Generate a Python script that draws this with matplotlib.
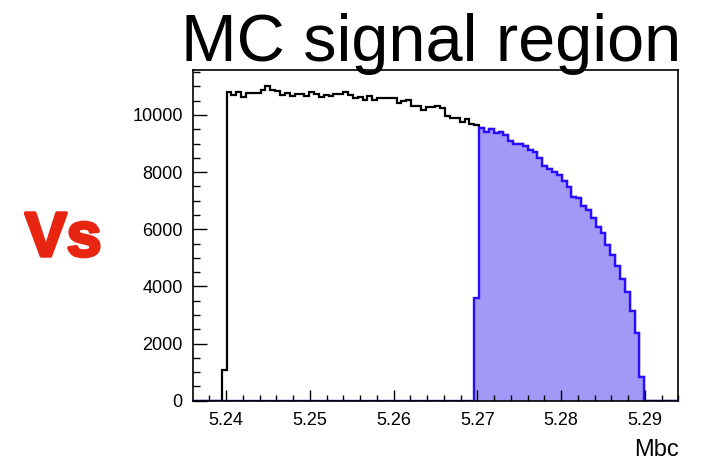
import numpy as np
import matplotlib
matplotlib.use('Agg')
import matplotlib.pyplot as plt
import matplotlib.patheffects as pe

plt.rcParams['font.family'] = ['Liberation Sans', 'DejaVu Sans']

# binning: 100 bins of Mbc
x_min, x_max, n_bins = 5.236, 5.294, 100

# full MC histogram, non-empty bins 6..92
first_bin = 6
mc_counts = [
    1080,
    10815, 10700, 10815, 10640, 10760, 10760, 10780, 10870, 11015, 10875,
    10850, 10700, 10780, 10665, 10745, 10745, 10665, 10800, 10720, 10630,
    10700, 10665, 10720, 10745, 10810, 10700, 10600, 10620, 10520, 10650,
    10530, 10600, 10600, 10600, 10580, 10420, 10480, 10520, 10330, 10330,
    10170, 10290, 10290, 10310, 10230, 9950, 9880, 9880, 9770, 9870,
    9700, 9650,
    9535, 9420, 9510, 9380, 9400, 9300, 9100, 8975, 8990, 8915,
    8775, 8694, 8484, 8225, 8099, 8016, 7900, 7700, 7469, 7140,
    7084, 6815, 6675, 6384, 6090, 5860, 5450, 5100, 4725, 4250,
    3815, 3140, 2360, 840,
]

# signal region (Mbc > 5.27), first bin only partly inside
sig_first_bin = 58
sig_counts = [3600] + mc_counts[59 - first_bin:]

edges = np.linspace(x_min, x_max, n_bins + 1)
mc = np.zeros(n_bins)
mc[first_bin:first_bin + len(mc_counts)] = mc_counts
sig = np.zeros(n_bins)
sig[sig_first_bin:sig_first_bin + len(sig_counts)] = sig_counts

W, H = 711, 462
fig = plt.figure(figsize=(W / 100, H / 100), dpi=100)
ax = fig.add_axes([192.5 / W, 1 - 400.7 / H, (678.3 - 192.5) / W, (400.7 - 70) / H])

ax.stairs(mc, edges, color='black', linewidth=1.6)
ax.stairs(sig, edges, fill=True, facecolor='#a298f6', edgecolor='none')
ax.stairs(sig, edges, color='#2a0cff', linewidth=1.7)

ax.set_xlim(x_min, x_max)
ax.set_ylim(0, 11575)
ax.set_xticks([5.24, 5.25, 5.26, 5.27, 5.28, 5.29])
ax.set_xticks(np.arange(5.238, 5.2941, 0.002), minor=True)
ax.set_yticks(np.arange(0, 10001, 2000))
ax.set_yticks(np.arange(0, 11501, 500), minor=True)
ax.tick_params(which='both', direction='in', top=False, right=False, labelsize=13)
ax.tick_params(axis='x', which='major', length=8, width=1, pad=8)
ax.tick_params(axis='x', which='minor', length=4, width=1)
ax.tick_params(axis='y', which='major', length=10, width=1, pad=7)
ax.tick_params(axis='y', which='minor', length=5, width=1)
for s in ax.spines.values():
    s.set_linewidth(1.2)

fig.text(679 / W, 1 - 456.5 / H, 'Mbc', fontsize=17, ha='right', va='baseline')
fig.text(681 / W, 1 - 61 / H, 'MC signal region', fontsize=48, ha='right', va='baseline')
fig.text(25 / W, 1 - 256 / H, 'Vs', fontsize=45, fontweight='bold', color='#e82510',
         ha='left', va='baseline',
         path_effects=[pe.withStroke(linewidth=2.5, foreground='#e82510')])

fig.savefig('out.png', dpi=100)
